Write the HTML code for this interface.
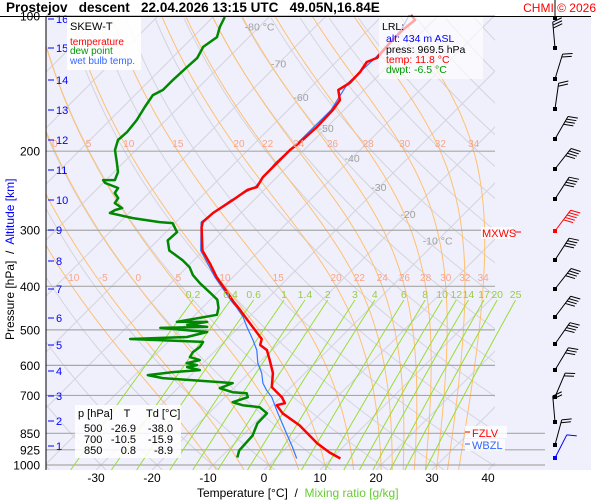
<!DOCTYPE html>
<html><head><meta charset="utf-8"><style>
body{margin:0;background:#fff;}
svg{display:block;font-family:"Liberation Sans",sans-serif;}
</style></head><body>
<svg id="c" width="600" height="500" viewBox="0 0 600 500" xmlns="http://www.w3.org/2000/svg">
<defs><clipPath id="pc"><rect x="46" y="16" width="449" height="454"/></clipPath></defs>
<rect x="46" y="16" width="545" height="454" fill="#f0f0fc"/>
<g id="grid" clip-path="url(#pc)"></g>
<g id="hlines"></g>
<g id="mrl"></g>
<g id="series"></g>
<g id="barbs"></g>
<g id="labels"></g>
<line x1="46" y1="16" x2="46" y2="470" stroke="#000" stroke-width="1"/>
<line x1="0" y1="16.5" x2="591" y2="16.5" stroke="#000" stroke-width="1"/>
<text x="6" y="12" font-size="13.5" font-weight="bold" style="white-space:pre" xml:space="preserve">Prostejov   descent   22.04.2026 13:15 UTC   49.05N,16.84E</text>
<text x="596" y="12" font-size="12" fill="#f00" text-anchor="end">CHMI © 2026</text>
<g>
<rect x="67" y="17" width="74" height="53" fill="#fff" opacity="0.9"/>
<text x="70" y="30" font-size="11">SKEW-T</text>
<text x="70" y="45" font-size="10" fill="#f00">temperature</text>
<text x="70" y="54" font-size="10" fill="#090">dew point</text>
<text x="70" y="64" font-size="10" fill="#36f">wet bulb temp.</text>
</g>
<g>
<rect x="379" y="17" width="104" height="62" fill="#fff" opacity="0.65"/>
<text x="382" y="30" font-size="10.5">LRL:</text>
<text x="386" y="42" font-size="10.5" fill="#00f">alt: 434 m ASL</text>
<text x="386" y="53" font-size="10.5">press: 969.5 hPa</text>
<text x="386" y="63" font-size="10.5" fill="#f00">temp: 11.8 °C</text>
<text x="386" y="73" font-size="10.5" fill="#090">dwpt: -6.5 °C</text>
</g>
<g font-size="11">
<rect x="75" y="405" width="106" height="53" fill="#fff" opacity="0.85"/>
<text x="78" y="417">p [hPa]</text><text x="127" y="417" text-anchor="middle">T</text><text x="146" y="417">Td [°C]</text>
<text x="84" y="432">500</text><text x="136" y="432" text-anchor="end">-26.9</text><text x="173" y="432" text-anchor="end">-38.0</text>
<text x="84" y="443">700</text><text x="136" y="443" text-anchor="end">-10.5</text><text x="173" y="443" text-anchor="end">-15.9</text>
<text x="84" y="454">850</text><text x="136" y="454" text-anchor="end">0.8</text><text x="173" y="454" text-anchor="end">-8.9</text>
</g>
<g><rect x="465" y="426" width="42" height="12" fill="#fff" opacity="0.8"/><line x1="465" y1="432" x2="470" y2="432" stroke="#f00"/><text x="472" y="437" font-size="11" fill="#f00">FZLV</text></g>
<g><rect x="465" y="439" width="40" height="12" fill="#fff" opacity="0.8"/><line x1="465" y1="444" x2="470" y2="444" stroke="#36f"/><text x="472" y="449" font-size="11" fill="#36f">WBZL</text></g>
<g><rect x="481" y="227" width="32" height="12" fill="#fff" opacity="0.8"/><text x="482" y="237" font-size="11" fill="#f00">MXWS</text><line x1="515" y1="232" x2="521" y2="232" stroke="#f00"/></g>
<text transform="translate(14,340) rotate(-90)" font-size="12" style="white-space:pre" xml:space="preserve">Pressure [hPa]  /  <tspan fill="#00f">Altitude [km]</tspan></text>
<text x="197" y="497" font-size="12" style="white-space:pre" xml:space="preserve">Temperature [°C]  /  <tspan fill="#6c3">Mixing ratio [g/kg]</tspan></text>
</svg>
<script>
const tempP=[99.5,102,107.4,114.8,124,126.6,133.3,141,146.1,153.9,162,176.7,190.7,198.8,212.5,228.4,240.4,244.1,257,274.7,287.8,295.3,332.9,355.3,381.6,404.1,432.8,451.1,475,508,524,540.5,554.7,584,624.3,670.8,706.3,728.4,736,767,816.3,895.5,938,967.4];
const tempT=[-55,-53.4,-53.8,-53.8,-53.4,-54.5,-53.9,-53.8,-54.6,-52.5,-52,-51.8,-52.1,-52.5,-52.5,-52.5,-51.8,-53,-53.8,-55,-55.2,-54.5,-50.2,-46.6,-42.9,-39.5,-35.5,-32.9,-29.8,-25.7,-23.8,-23,-20.9,-18.6,-15.7,-13.4,-9.8,-8.2,-9.3,-6.8,-1.6,4.8,8.6,11.6];
const wbP=[99.5,107.4,124,141,162,190.7,212.5,240.4,257,287.8,332.9,381.6,432.8,446.5,467.7,492.5,526.6,554.7,593,624.3,657.2,681.3,706.3,755.2,850.7,914.3,967.4];
const wbT=[-55.3,-54.1,-53.7,-54.1,-52.3,-52.4,-52.8,-52.1,-54.1,-55.5,-50.5,-43.2,-35.8,-33.8,-31.1,-28.6,-25.2,-22.7,-20.2,-17.7,-15.7,-13.8,-11.6,-8.4,-2.5,1.1,3.8];
const dewP=[100.5,105.8,111.4,117.2,124,129.9,138.8,146.1,150,159.5,170.5,181.2,188.9,198.8,212.5,222.5,232,232,235.5,241.6,247.9,254.4,261,267.8,270.5,274.7,281.9,287.8,289.3,303.1,316,332.9,349.9,362.7,377.7,393.7,412.6,428.4,446.5,462.9,480,480,487.5,492.5,495,505.5,518.6,524,532,546.1,560.4,575,584,593,599,605.3,614.8,621.1,630.7,640.5,653.8,657.2,674.3,688.3,691.9,706.3,724.7,736,743.6,767,808,859.4,928.4,962.4];
const dewT=[-87.9,-87,-85.7,-86.4,-85.5,-85.7,-85.9,-85.9,-86.8,-86.1,-85.2,-84.8,-85,-83.75,-81.1,-79.3,-78.4,-80.5,-79.6,-76.4,-76.1,-74.6,-74.3,-72.1,-73,-73.4,-68.4,-62.9,-60.4,-58,-58.2,-56.1,-52,-49.5,-47.5,-44.8,-41.4,-38.75,-37.1,-36.1,-42,-36.6,-39.6,-35.7,-43.9,-34.8,-37.5,-47.3,-33.75,-33.4,-33.75,-33.4,-31.1,-32.9,-30.7,-32.1,-29.3,-33.75,-37.7,-34.5,-23.6,-21.1,-22.5,-19.5,-16.8,-15.9,-17.7,-15.4,-12,-9.6,-9.5,-8.2,-7.9,-7];
const pressureTicks=[100,200,300,400,500,600,700,850,925,1000];
const altTicks=[1,2,3,4,5,6,7,8,9,10,11,12,13,14,15,16];
const altY=[446,421,396,371,345,318,289,261,230,200,170,140,110,80,48,19];
const tempTicks=[-30,-20,-10,0,10,20,30,40];
const isoLabels=[-80,-70,-60,-50,-40,-30,-20,-10];
const isoLabelP=[105.5,127.5,151.5,177.5,207,240.5,276,316];
const moistThetaW=[-10,-5,0,5,10,15,20,22,24,26,28,30,32,34];
const mixRatios=[0.2,0.4,0.6,1,1.4,2,3,4,6,8,10,12,14,17,20,25];
const barbY=[48,79,109,139,169,199,231,260,289,317,344,370,397,422,445,458];
const barbDir=[-5,17,8,30,38,33,37,33,38,37,35,31,23,-5,15,27];
const barbTicks=[3,2,2,4,4,4,5,4,4,4,4,3,2,2,2,1];

const NS='http://www.w3.org/2000/svg';
const Y=p=>16+195*Math.log(p/100);
const P=y=>100*Math.exp((y-16)/195);
const X=(T,y)=>264+5.6*T+(470-y);
function mk(tag,attrs,parent){const e=document.createElementNS(NS,tag);for(const k in attrs)e.setAttribute(k,attrs[k]);parent.appendChild(e);return e;}
const grid=document.getElementById('grid'),hl=document.getElementById('hlines'),mr=document.getElementById('mrl'),ser=document.getElementById('series'),bb=document.getElementById('barbs'),lab=document.getElementById('labels');
function pathFrom(pts){return 'M'+pts.map(q=>q[0].toFixed(1)+','+q[1].toFixed(1)).join('L');}
for(let T=-140;T<=50;T+=10){const l=mk('line',{x1:X(T,470),y1:470,x2:X(T,16),y2:16,stroke:'#d4d4dc','stroke-width':1},grid);

}
for(let th=-40;th<=200;th+=10){const pts=[];for(let y=470;y>=16;y-=4){const p=P(y);const T=(th+273.15)*Math.pow(p/1000,0.286)-273.15;pts.push([X(T,y),y]);}
const e=mk('path',{d:pathFrom(pts),fill:'none',stroke:'#d4d4dc','stroke-width':1},grid);

}
function es(Tc){return 6.112*Math.exp(17.67*Tc/(Tc+243.5));}
function dTdlnp(T,p){const e=es(T-273.15);const rs=0.622*e/Math.max(p-e,1);return (287*T+2.5e6*rs)/(1005+2.5e6*2.5e6*rs*0.622/(287*T*T));}
function moist(tw){const pts=[];let T=tw+273.15,lp=Math.log(1000);const h=0.005;
let Td=T,lpd=lp;while(lpd<Math.log(1040)){Td+=dTdlnp(Td,Math.exp(lpd))*h;lpd+=h;}
const low=[[Td,Math.exp(lpd)]];
while(lp>Math.log(98)){pts.push([T,Math.exp(lp)]);const k1=dTdlnp(T,Math.exp(lp));const k2=dTdlnp(T-k1*h/2,Math.exp(lp-h/2));T-=k2*h;lp-=h;}
return low.concat(pts);}
const moistCurves={};
moistThetaW.forEach(tw=>{const c=moist(tw);moistCurves[tw]=c;const pts=c.map(q=>[X(q[0]-273.15,Y(q[1])),Y(q[1])]);
const e=mk('path',{d:pathFrom(pts),fill:'none',stroke:'#ffc070','stroke-width':1},grid);

});
function moistT(tw,p){const c=moistCurves[tw];for(let i=1;i<c.length;i++){if(c[i][1]<=p){const a=c[i-1],b=c[i];const f=(a[1]-p)/(a[1]-b[1]);return a[0]+(b[0]-a[0])*f-273.15;}}return NaN;}
moistThetaW.forEach(tw=>{
 [[200,147],[400,281]].forEach(([p,ly])=>{if(p==200&&tw<0)return;const x=X(moistT(tw,p),Y(p));if(x<48||x>492)return;
 const t=mk('text',{x:x,y:ly,'font-size':10,fill:'#f8a488','text-anchor':'middle'},lab);t.textContent=tw;
 
 });});
pressureTicks.forEach(p=>{const y=Y(p);const xe=p>=850?545:495;
const l=mk('line',{x1:46,y1:y,x2:xe,y2:y,stroke:'#a8a8a8','stroke-width':1.2},hl);


const t=mk('text',{x:40,y:y+4.5,'font-size':12,'text-anchor':'end'},lab);t.textContent=p;

});
altTicks.forEach((a,i)=>{const y=altY[i];mk('line',{x1:48,y1:y,x2:54,y2:y,stroke:'#00f','stroke-width':1},lab);
const t=mk('text',{x:56,y:y+4,'font-size':11,fill:'#00f'},lab);t.textContent=a;

});
tempTicks.forEach(T=>{const t=mk('text',{x:X(T,470),y:482,'font-size':12,'text-anchor':'middle'},lab);t.textContent=T;

});
isoLabels.forEach((T,i)=>{const y=Y(isoLabelP[i]);const t=mk('text',{x:X(T,y),y:y+4,'font-size':10.5,fill:'#a0a0a0','text-anchor':'middle'},lab);t.textContent=(T==-80||T==-10)?T+' °C':T;

});
function tdw(w,p){const e=w*p/(622+w);const l=Math.log(e/6.112);return 243.5*l/(17.67-l);}
mixRatios.forEach(w=>{const pts=[];for(let y=470;y>=300;y-=5){pts.push([X(tdw(w,P(y)),y),y]);}
const e=mk('path',{d:pathFrom(pts),fill:'none',stroke:'#99dd33','stroke-width':1},mr);


const t=mk('text',{x:X(tdw(w,P(300)),300),y:298,'font-size':10.5,fill:'#99cc44','text-anchor':'middle'},lab);t.textContent=w;

});
function series(ps,ts,color,w,name){const pts=ps.map((p,i)=>[X(ts[i],Y(p)),Y(p)]);const e=mk('path',{d:pathFrom(pts),fill:'none',stroke:color,'stroke-width':w,'stroke-linejoin':'round'},ser);

}
series(dewP,dewT,'#008800',2.5,'dewpoint-line');
series(wbP,wbT,'#3377ff',1.2,'wet-bulb-line');
series(tempP,tempT,'#ff0000',2.5,'temperature-line');
mk('line',{x1:555,y1:0,x2:555,y2:18,stroke:'#000'},bb);mk('rect',{x:553,y:16,width:4,height:4,fill:'#000'},bb);
barbY.forEach((y,i)=>{const a=barbDir[i]*Math.PI/180;const L=26;const col=i==6?'#f00':(i==15?'#00f':'#000');
const tx=555+L*Math.sin(a),ty=y-L*Math.cos(a);
const g=mk('g',{},bb);


mk('line',{x1:555,y1:y,x2:tx,y2:ty,stroke:col,'stroke-width':1},g);
mk('rect',{x:553,y:y-2,width:4,height:4,fill:col},g);
for(let k=0;k<barbTicks[i];k++){const d=k*3;const bx=555+(L-d)*Math.sin(a),by=y-(L-d)*Math.cos(a);const ta=a+Math.PI/2.6;
mk('line',{x1:bx,y1:by,x2:bx+10*Math.sin(ta),y2:by-10*Math.cos(ta),stroke:col,'stroke-width':1},g);}});
</script>
</body></html>
